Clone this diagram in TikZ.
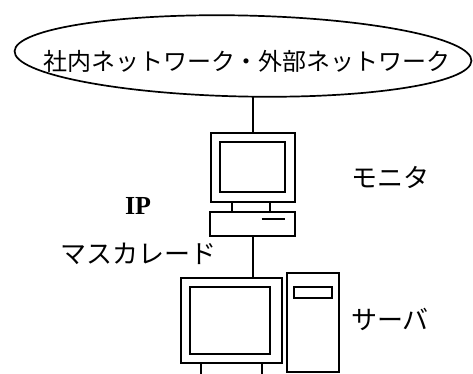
\documentclass[tikz,border=0pt]{standalone}
\usepackage{fontspec}
\setmainfont{Liberation Serif}
\newfontfamily\jpfont{Noto Sans CJK JP}
\usetikzlibrary{shapes.geometric}
\tikzset{
  box/.style={draw, line width=2pt, inner sep=0pt},
  wire/.style={line width=2pt},
  jlabel/.style={font=\jpfont\fontsize{26}{30}\selectfont, inner sep=0pt},
}

\begin{document}
\begin{tikzpicture}[x=1pt, y=-1pt]
      \useasboundingbox (0,0) rectangle (473,374);
      % network cloud
      \node[draw, ellipse, line width=1.7pt, minimum width=457pt, minimum height=81pt, rotate=-1.2] (net) at (243,56) {};
      \node[jlabel, font=\jpfont\fontsize{24}{28}\selectfont] (netlbl) at (247,61) {社内ネットワーク・外部ネットワーク};
      % masquerade box: monitor + desktop unit
      \node[box, minimum width=84.6pt, minimum height=69pt] (mon) at (253,167.8) {};
      \node[box, minimum width=65pt, minimum height=49.7pt] (monscr) at (252.5,167.2) {};
      \node[box, minimum width=37.7pt, minimum height=9.4pt] (stand) at (251.2,207) {};
      \node[box, minimum width=85pt, minimum height=24.3pt] (base) at (252.5,223.9) {};
      \draw[wire] (261.7,219.3) -- (285,219.3);
      % server: monitor + tower
      \node[box, minimum width=101pt, minimum height=85.6pt] (srv) at (231.2,320.5) {};
      \node[box, minimum width=80pt, minimum height=67.3pt] (srvscr) at (230,320.3) {};
      \coordinate (legl) at (200.7,374);
      \coordinate (legr) at (262,374);
      \draw[wire] (legl) -- (legl |- srv.south);
      \draw[wire] (legr) -- (legr |- srv.south);
      \node[box, minimum width=52.6pt, minimum height=99pt] (tower) at (313,322.8) {};
      \node[box, minimum width=37.7pt, minimum height=11.6pt] (slot) at (312.8,292.5) {};
      % cables
      \draw[wire] (mon.north) -- (mon.north |- net.south);
      \draw[wire] (base.south) -- (base.south |- srv.north);
      % labels
      \node[jlabel] (monlbl) at (390,177) {モニタ};
      \node[inner sep=0pt, font=\bfseries\fontsize{26}{30}\selectfont] (iplbl) at (138,206) {IP};
      \node[jlabel] (masqlbl) at (138,254) {マスカレード};
      \node[jlabel] (srvlbl) at (390,319) {サーバ};
\end{tikzpicture}
\end{document}
